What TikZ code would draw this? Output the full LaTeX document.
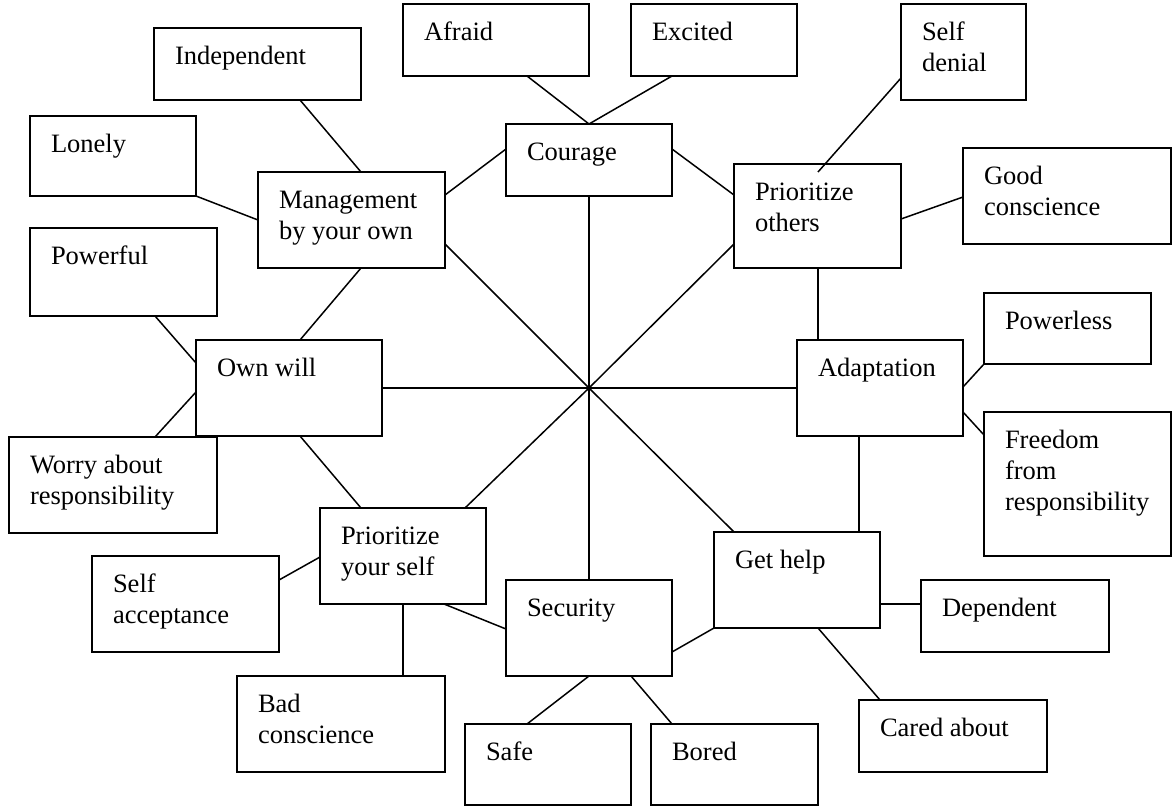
\documentclass[tikz,border=0pt]{standalone}
\usepackage{fontspec}
\setmainfont{Liberation Serif}
\newcommand{\bx}[6]{%
  \node[boxnode, anchor=north west] (#1) at (#2,#3)
    {\parbox[t][\dimexpr#5pt-#3pt\relax][t]{\dimexpr#4pt-#2pt\relax}{\raggedright\leftskip=21pt\vspace*{14.3pt}\strut #6}};}
\begin{document}
\begin{tikzpicture}[x=1pt,y=-1pt,
  boxnode/.style={draw, line width=1.5pt, rectangle, inner sep=0pt, outer sep=0pt,
    font=\fontsize{26.5}{31}\selectfont},
  link/.style={line width=1.5pt}]
\useasboundingbox (0,0) rectangle (1173,807);
\bx{indep}{154}{28}{361}{100}{Independent}
\bx{afraid}{403}{4}{589}{76}{Afraid}
\bx{excited}{631}{4}{797}{76}{Excited}
\bx{selfden}{901}{4}{1026}{100}{Self\\denial}
\bx{lonely}{30}{116}{196}{196}{Lonely}
\bx{courage}{506}{124}{672}{196}{Courage}
\bx{mgmt}{258}{172}{445}{268}{Management\\by your own}
\bx{prioth}{734}{164}{901}{268}{Prioritize\\others}
\bx{goodc}{963}{148}{1171}{244}{Good\\conscience}
\bx{powerful}{30}{228}{217}{316}{Powerful}
\bx{powerless}{984}{293}{1151}{364}{Powerless}
\bx{ownwill}{196}{340}{382}{436}{Own will}
\bx{adapt}{797}{340}{963}{436}{Adaptation}
\bx{freedom}{984}{412}{1171}{556}{Freedom\\from\\responsibility}
\bx{worry}{9}{437}{217}{533}{Worry about\\responsibility}
\bx{pys}{320}{508}{486}{604}{Prioritize\\your self}
\bx{gethelp}{714}{532}{880}{628}{Get help}
\bx{selfacc}{92}{556}{279}{652}{Self\\acceptance}
\bx{security}{506}{580}{672}{676}{Security}
\bx{dependent}{921}{580}{1109}{652}{Dependent}
\bx{badc}{237}{676}{445}{772}{Bad\\conscience}
\bx{cared}{859}{700}{1047}{772}{Cared about}
\bx{safe}{465}{724}{631}{805}{Safe}
\bx{bored}{651}{724}{818}{805}{Bored}
\coordinate (hub) at (589,388);
\begin{scope}[link]
\draw ([xshift=146pt]indep.south west) -- ([xshift=103pt]mgmt.north west);
\draw (lonely.south east) -- ([yshift=-48pt]mgmt.north west);
\draw ([xshift=124pt]afraid.south west) -- ([xshift=83pt]courage.north west);
\draw ([xshift=41pt]excited.south west) -- ([xshift=83pt]courage.north west);
\draw ([yshift=-25pt]courage.north west) -- ([yshift=-23pt]mgmt.north east);
\draw ([yshift=-25pt]courage.north east) -- ([yshift=-31pt]prioth.north west);
\draw ([yshift=-74pt]selfden.north west) -- ([shift={(84pt,-8pt)}]prioth.north west);
\draw ([yshift=-49pt]goodc.north west) -- ([yshift=-55pt]prioth.north east);
\draw ([xshift=84pt]prioth.south west) -- ([xshift=21pt]adapt.north west);
\draw (powerless.south west) -- ([yshift=-47pt]adapt.north east);
\draw ([yshift=-23pt]freedom.north west) -- ([yshift=-72pt]adapt.north east);
\draw ([xshift=62pt]adapt.south west) -- ([xshift=145pt]gethelp.north west);
\draw ([yshift=-72pt]gethelp.north east) -- ([yshift=-24pt]dependent.north west);
\draw ([xshift=104pt]gethelp.south west) -- ([xshift=21pt]cared.north west);
\draw (gethelp.south west) -- ([yshift=-72pt]security.north east);
\draw ([xshift=83pt]security.south west) -- ([xshift=62pt]safe.north west);
\draw ([xshift=125pt]security.south west) -- ([xshift=21pt]bored.north west);
\draw ([yshift=-49pt]security.north west) -- ([xshift=124pt]pys.south west);
\draw ([xshift=83pt]pys.south west) -- ([xshift=166pt]badc.north west);
\draw ([yshift=-24pt]selfacc.north east) -- ([yshift=-49pt]pys.north west);
\draw ([xshift=104pt]ownwill.south west) -- ([xshift=41pt]pys.north west);
\draw ([xshift=146pt]worry.north west) -- ([yshift=-52pt]ownwill.north west);
\draw ([xshift=125pt]powerful.south west) -- ([yshift=-23pt]ownwill.north west);
\draw ([xshift=103pt]mgmt.south west) -- ([xshift=104pt]ownwill.north west);
\draw (hub) -- ([xshift=83pt]courage.south west);
\draw (hub) -- ([xshift=83pt]security.north west);
\draw (hub) -- ([yshift=48pt]ownwill.south east);
\draw (hub) -- ([yshift=48pt]adapt.south west);
\draw (hub) -- ([yshift=24pt]mgmt.south east);
\draw (hub) -- ([yshift=24pt]prioth.south west);
\draw (hub) -- ([xshift=145pt]pys.north west);
\draw (hub) -- ([xshift=20pt]gethelp.north west);
\end{scope}
\end{tikzpicture}
\end{document}
